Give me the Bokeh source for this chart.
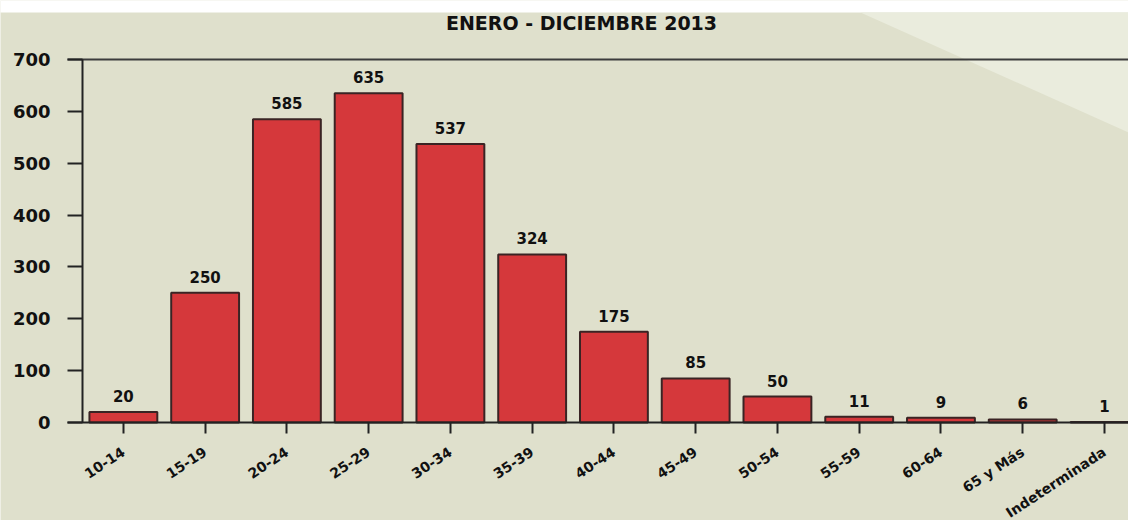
import math
from bokeh.plotting import figure
from bokeh.models import (ColumnDataSource, LabelSet, Label, FixedTicker,
                          Range1d, PolyAnnotation, LinearAxis)
from bokeh.core.properties import value
from bokeh.embed import file_html
from bokeh.resources import INLINE

# ---- data ----
categories = ["10-14", "15-19", "20-24", "25-29", "30-34", "35-39", "40-44",
              "45-49", "50-54", "55-59", "60-64", "65 y Más", "Indeterminada"]
values = [20, 250, 585, 635, 537, 324, 175, 85, 50, 11, 9, 6, 1]
y_ticks = [0, 100, 200, 300, 400, 500, 600, 700]
title_text = "ENERO - DICIEMBRE 2013"

positions = list(range(len(categories)))
value_text = [str(v) for v in values]

source = ColumnDataSource(dict(x=positions, top=values, label=value_text))

BG = "#dfe0cc"
FONT = "DejaVu Sans"
INK = "#222222"

X0, X1 = -1.503, 12.294      # x range over the whole canvas
AXIS_X = -0.5                # where the value axis sits
LINE_START = -0.683          # horizontal rules start a tick-length left of it

p = figure(width=1128, height=520, output_backend="svg", toolbar_location=None,
           title=None,
           x_range=Range1d(X0, X1), y_range=Range1d(-189.0, 813.8),
           min_border=0, min_border_left=0, min_border_right=0,
           min_border_top=0, min_border_bottom=0)
p.background_fill_color = BG
p.border_fill_color = BG
p.outline_line_color = None
p.grid.grid_line_color = None

# white strip at the very top and lighter triangle in the top-right corner
p.add_layout(PolyAnnotation(xs=[-5, 1135, 1135, -5], ys=[525, 525, 508, 508],
                            xs_units="screen", ys_units="screen",
                            fill_color="#ffffff", fill_alpha=1.0, line_color=None,
                            level="underlay"))
p.add_layout(PolyAnnotation(xs=[860, 1135, 1135], ys=[508, 508, 385],
                            xs_units="screen", ys_units="screen",
                            fill_color="#eaecdd", fill_alpha=1.0, line_color=None,
                            level="underlay"))

# bars
p.vbar(x="x", top="top", bottom=0, width=0.83, source=source,
       fill_color="#d5383b", line_color="#3a2424", line_width=2)

# value labels
p.add_layout(LabelSet(x="x", y="top", text="label", source=source,
                      text_align="center", text_baseline="bottom", y_offset=10,
                      text_font=value(FONT), text_font_style="bold",
                      text_font_size="15px", text_color="#111111"))

# y axis (placed inside the frame at AXIS_X)
p.yaxis.fixed_location = AXIS_X
p.yaxis.ticker = FixedTicker(ticks=y_ticks)
p.yaxis.bounds = (0, 700)
p.yaxis.minor_tick_line_color = None
p.yaxis.major_tick_out = 15
p.yaxis.major_tick_in = 0
p.yaxis.major_tick_line_width = 2
p.yaxis.major_tick_line_color = INK
p.yaxis.axis_line_width = 2
p.yaxis.axis_line_color = INK
p.yaxis.major_label_standoff = 17
p.yaxis.major_label_text_font = FONT
p.yaxis.major_label_text_font_style = "bold"
p.yaxis.major_label_text_font_size = "18px"
p.yaxis.major_label_text_color = "#111111"

# x axis at value 0
p.xaxis.fixed_location = 0
p.xaxis.bounds = (LINE_START, X1)
p.xaxis.ticker = FixedTicker(ticks=positions)
p.xaxis.major_label_overrides = {i: c for i, c in zip(positions, categories)}
p.xaxis.minor_tick_line_color = None
p.xaxis.major_tick_out = 11
p.xaxis.major_tick_in = 0
p.xaxis.major_tick_line_width = 2
p.xaxis.major_tick_line_color = INK
p.xaxis.axis_line_width = 2
p.xaxis.axis_line_color = INK
p.xaxis.major_label_orientation = 0.58
p.xaxis.major_label_standoff = 17
p.xaxis.major_label_text_font = FONT
p.xaxis.major_label_text_font_style = "bold"
p.xaxis.major_label_text_font_size = "14px"
p.xaxis.major_label_text_color = "#111111"

# top rule at 700: a tickless axis line
top_rule = LinearAxis(fixed_location=700, bounds=(LINE_START, X1),
                      ticker=FixedTicker(ticks=[]),
                      axis_line_color="#3c3c3c", axis_line_width=2,
                      major_tick_line_color=None, minor_tick_line_color=None)
p.add_layout(top_rule, "above")

# title
p.add_layout(Label(x=581, y=498, x_units="screen", y_units="screen",
                   text=title_text, text_align="center", text_baseline="middle",
                   text_font=FONT, text_font_style="bold",
                   text_font_size="19px", text_color="#111111"))

open("out.html", "w").write(file_html(p, INLINE))
